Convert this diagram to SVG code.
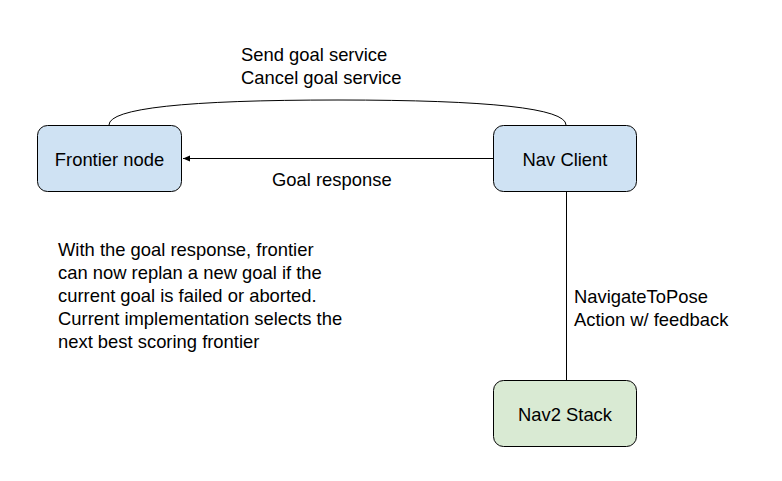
<svg xmlns="http://www.w3.org/2000/svg" width="782" height="481" viewBox="0 0 782 481">
<style>
text{font-family:"Liberation Sans",Arial,sans-serif;font-size:18.4px;fill:#000}
.box{stroke:#000;stroke-width:1}
.blue{fill:#cfe2f3}
.green{fill:#d9ead3}
.c{text-anchor:middle}
.ln{fill:none;stroke:#000;stroke-width:1}
</style>
<defs>
<marker id="ah" markerWidth="8" markerHeight="8" refX="7" refY="4" orient="auto" markerUnits="userSpaceOnUse">
<path d="M0,1 L7,4 L0,7 Z" fill="#000"/>
</marker>
</defs>
<rect width="782" height="481" fill="#fff"/>
<g id="connectors">
<path class="ln" d="M109,125 Q109,100 338,100 Q566,100 566,125"/>
<path class="ln" d="M493,158.5 L183,158.5" marker-end="url(#ah)"/>
<path class="ln" d="M566.5,192 L566.5,380"/>
</g>
<g id="frontier-node">
<rect class="box blue" x="37.5" y="125.5" width="144" height="66" rx="10"/>
<text class="c" x="109.5" y="166">Frontier node</text>
</g>
<g id="nav-client">
<rect class="box blue" x="493.5" y="125.5" width="143" height="66" rx="10"/>
<text class="c" x="565" y="166">Nav Client</text>
</g>
<g id="nav2-stack">
<rect class="box green" x="493.5" y="380.5" width="143" height="66" rx="10"/>
<text class="c" x="565" y="421">Nav2 Stack</text>
</g>
<g id="labels">
<text x="241" y="61">Send goal service</text>
<text x="241" y="84">Cancel goal service</text>
<text x="272" y="186">Goal response</text>
<text x="574" y="302.5">NavigateToPose</text>
<text x="574" y="325.5">Action w/ feedback</text>
<text x="58" y="256">With the goal response, frontier</text>
<text x="58" y="279">can now replan a new goal if the</text>
<text x="58" y="302">current goal is failed or aborted.</text>
<text x="58" y="325">Current implementation selects the</text>
<text x="58" y="348">next best scoring frontier</text>
</g>
</svg>
